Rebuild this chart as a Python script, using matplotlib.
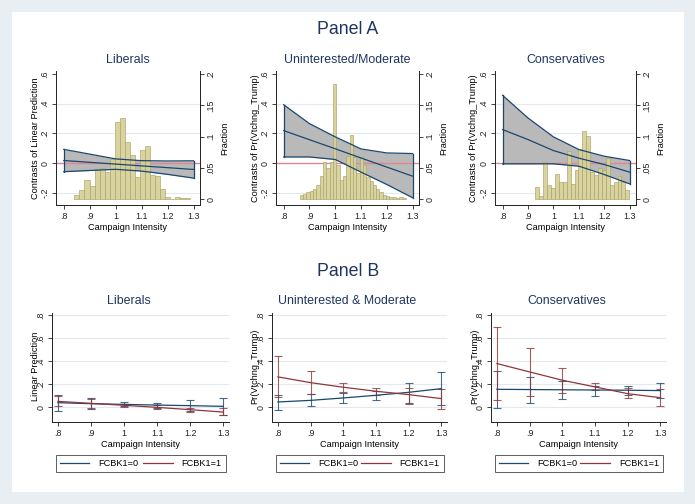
import numpy as np
import matplotlib
matplotlib.use("Agg")
import matplotlib.pyplot as plt
from matplotlib.patches import Rectangle
from matplotlib.lines import Line2D

plt.rcParams['font.family'] = ['Liberation Sans', 'DejaVu Sans']

W, H = 695, 504

# ---------------- data ----------------
x_pts = [0.8, 0.9, 1.0, 1.1, 1.2, 1.3]

# Panel A: contrasts with CI
lib_c = [0.018, 0.006, -0.006, -0.018, -0.030, -0.042]
lib_hi = [0.093, 0.061, 0.029, 0.017, 0.015, 0.016]
lib_lo = [-0.057, -0.049, -0.041, -0.053, -0.075, -0.100]

mod_c = [0.219, 0.158, 0.097, 0.035, -0.026, -0.087]
mod_hi = [0.393, 0.266, 0.177, 0.096, 0.069, 0.065]
mod_lo = [0.042, 0.042, 0.025, -0.060, -0.143, -0.232]

con_c = [0.226, 0.159, 0.085, 0.034, -0.009, -0.060]
con_hi = [0.456, 0.304, 0.177, 0.092, 0.047, 0.018]
con_lo = [-0.004, -0.004, -0.004, -0.020, -0.076, -0.139]

# Panel A histograms (fraction per bin)
lib_bin_start, lib_bin_w = 0.841, 0.0194
lib_frac = [0.006, 0.015, 0.030, 0.021, 0.048, 0.049, 0.043, 0.064, 0.124, 0.129,
            0.092, 0.071, 0.036, 0.079, 0.085, 0.039, 0.037, 0.016, 0.004, 0.0,
            0.004, 0.002, 0.002]

mod_bin_start, mod_bin_w = 0.862, 0.0129
mod_frac = [0.006, 0.008, 0.011, 0.013, 0.016, 0.023, 0.037, 0.060, 0.049, 0.059,
            0.184, 0.055, 0.031, 0.037, 0.069, 0.103, 0.068, 0.041, 0.068, 0.055,
            0.036, 0.029, 0.023, 0.016, 0.012, 0.006, 0.005, 0.004, 0.003, 0.002,
            0.004, 0.002]

con_bin_start, con_bin_w = 0.929, 0.0154
con_frac = [0.019, 0.005, 0.060, 0.023, 0.018, 0.040, 0.028, 0.027, 0.077, 0.024,
            0.047, 0.080, 0.109, 0.101, 0.044, 0.038, 0.049, 0.047, 0.066, 0.023,
            0.028, 0.037, 0.028, 0.014]

# Panel B: predictions by FCBK1 with CI
libB0 = [0.038, 0.029, 0.023, 0.017, 0.012, 0.006]
libB0_hi = [0.108, 0.079, 0.047, 0.035, 0.058, 0.079]
libB0_lo = [-0.038, -0.015, 0.006, -0.006, -0.035, -0.073]
libB1 = [0.049, 0.032, 0.015, -0.003, -0.023, -0.044]
libB1_hi = [0.093, 0.067, 0.029, 0.015, -0.006, -0.009]
libB1_lo = [0.006, -0.006, 0.000, -0.017, -0.044, -0.073]

modB0 = [0.044, 0.058, 0.079, 0.102, 0.128, 0.160]
modB0_hi = [0.108, 0.116, 0.122, 0.137, 0.209, 0.305]
modB0_lo = [-0.023, 0.006, 0.038, 0.064, 0.035, 0.015]
modB1 = [0.262, 0.212, 0.172, 0.137, 0.108, 0.073]
modB1_hi = [0.442, 0.314, 0.212, 0.169, 0.166, 0.160]
modB1_lo = [0.087, 0.116, 0.131, 0.102, 0.029, -0.015]

conB0 = [0.154, 0.152, 0.150, 0.148, 0.146, 0.143]
conB0_hi = [0.311, 0.262, 0.224, 0.186, 0.180, 0.207]
conB0_lo = [-0.009, 0.035, 0.073, 0.096, 0.102, 0.079]
conB1 = [0.378, 0.305, 0.233, 0.175, 0.116, 0.081]
conB1_hi = [0.698, 0.509, 0.340, 0.209, 0.166, 0.154]
conB1_lo = [0.058, 0.093, 0.122, 0.145, 0.079, 0.009]

legend_labels = ["FCBK1=0", "FCBK1=1"]

# ---------------- style ----------------
NAVY = '#1a476f'
MAROON = '#90353b'
BAND = '#b9b9b9'
HIST_FILL = '#d6d197'
HIST_EDGE = '#aba46a'
GRID = '#e3eaef'
REFLINE = '#e0868e'
TITLE_C = '#1f3560'
FS_TICK = 6.4
FS_LAB = 6.6
FS_TITLE = 8.9


def fig_box(left, right, top, bottom):
    return [left / W, 1 - bottom / H, (right - left) / W, (bottom - top) / H]


def style_axes(ax):
    ax.set_facecolor('none')
    ax.spines['top'].set_visible(False)
    ax.spines['right'].set_visible(False)
    for s in ('left', 'bottom'):
        ax.spines[s].set_linewidth(0.7)
        ax.spines[s].set_color('#222222')
    ax.tick_params(direction='out', length=2.8, width=0.6, colors='#222222',
                   labelsize=FS_TICK, pad=2)


fig = plt.figure(figsize=(W / 100, H / 100), dpi=100)
fig.patch.set_facecolor('#e9eef2')
fig.patches.append(Rectangle((12 / W, 1 - 492 / H), (684 - 12) / W, (492 - 12) / H,
                             transform=fig.transFigure, facecolor='white',
                             edgecolor='none', zorder=-10))

fig.text(348 / W, 1 - 30 / H, "Panel A", ha='center', va='center', fontsize=12.8, color=TITLE_C)
fig.text(348 / W, 1 - 272 / H, "Panel B", ha='center', va='center', fontsize=12.8, color=TITLE_C)

# ---------------- Panel A ----------------
panelA = [
    ("Liberals", "Contrasts of Linear Prediction", lib_c, lib_hi, lib_lo,
     lib_bin_start, lib_bin_w, lib_frac, 56, 200, 35),
    ("Uninterested/Moderate", "Contrasts of Pr(Vtchng_Trump)", mod_c, mod_hi, mod_lo,
     mod_bin_start, mod_bin_w, mod_frac, 276, 419, 255),
    ("Conservatives", "Contrasts of Pr(Vtchng_Trump)", con_c, con_hi, con_lo,
     con_bin_start, con_bin_w, con_frac, 495, 636, 474),
]

for title, ylab, c, hi, lo, b0, bw, frac, L, R, ylx in panelA:
    ax = fig.add_axes(fig_box(L, R, 71, 205))
    style_axes(ax)
    ax.set_xlim(0.77, 1.325)
    ax.set_ylim(-0.281, 0.62)
    for g in [0.4, 0.2, -0.2]:
        ax.axhline(g, color=GRID, lw=0.8, zorder=0)
    ax.fill_between(x_pts, lo, hi, color=BAND, lw=0, zorder=1)
    ax.axhline(0, color=REFLINE, lw=1.0, zorder=2)
    ax.set_xticks([0.8, 0.9, 1.0, 1.1, 1.2, 1.3])
    ax.set_xticklabels(['.8', '.9', '1', '1.1', '1.2', '1.3'])
    ax.set_yticks([-0.2, 0, 0.2, 0.4, 0.6])
    ax.set_yticklabels(['-.2', '0', '.2', '.4', '.6'], rotation=90, va='center')
    ax.set_xlabel("Campaign Intensity", fontsize=FS_LAB, labelpad=2)
    fig.text((L + R) / 2 / W, 1 - 60 / H, title, ha='center', va='center',
             fontsize=FS_TITLE, color=TITLE_C)
    fig.text(ylx / W, 1 - 138 / H, ylab, rotation=90, ha='center', va='center',
             fontsize=FS_LAB)

    ax2 = ax.twinx()
    ax2.set_facecolor('none')
    for s in ('top', 'left', 'bottom'):
        ax2.spines[s].set_visible(False)
    ax2.spines['right'].set_linewidth(0.7)
    ax2.spines['right'].set_color('#222222')
    ax2.set_ylim(-0.0096, 0.2048)
    edges = b0 + bw * np.arange(len(frac))
    ax2.bar(edges, frac, width=bw, align='edge', color=HIST_FILL,
            edgecolor=HIST_EDGE, linewidth=0.5, alpha=0.92, zorder=3)
    for series in (hi, lo, c):
        ax2.plot(x_pts, series, color=NAVY, lw=0.9, transform=ax.transData, zorder=4)
    ax2.plot([x_pts[0], x_pts[0]], [lo[0], hi[0]], color=NAVY, lw=0.9,
             transform=ax.transData, zorder=4)
    ax2.plot([x_pts[-1], x_pts[-1]], [lo[-1], hi[-1]], color=NAVY, lw=0.9,
             transform=ax.transData, zorder=4)
    ax2.set_yticks([0, 0.05, 0.1, 0.15, 0.2])
    ax2.set_yticklabels(['0', '.05', '.1', '.15', '.2'], rotation=90, va='center')
    ax2.tick_params(direction='out', length=2.8, width=0.6, colors='#222222',
                    labelsize=FS_TICK, pad=2)
    ax2.set_ylabel("Fraction", fontsize=FS_LAB, labelpad=3)

# ---------------- Panel B ----------------
panelB = [
    ("Liberals", "Linear Prediction", libB0, libB0_hi, libB0_lo, libB1, libB1_hi, libB1_lo,
     52, 229, 36),
    ("Uninterested & Moderate", "Pr(Vtchng_Trump)", modB0, modB0_hi, modB0_lo,
     modB1, modB1_hi, modB1_lo, 272, 447, 255),
    ("Conservatives", "Pr(Vtchng_Trump)", conB0, conB0_hi, conB0_lo,
     conB1, conB1_hi, conB1_lo, 491, 666, 475),
]

for title, ylab, y0, h0, l0, y1, h1, l1, L, R, ylx in panelB:
    ax = fig.add_axes(fig_box(L, R, 313, 422))
    style_axes(ax)
    ax.set_xlim(0.782, 1.317)
    ax.set_ylim(-0.13, 0.817)
    for g in [0, 0.2, 0.4, 0.6, 0.8]:
        ax.axhline(g, color=GRID, lw=0.8, zorder=0)
    e0 = [np.subtract(y0, l0), np.subtract(h0, y0)]
    e1 = [np.subtract(y1, l1), np.subtract(h1, y1)]
    ax.errorbar(x_pts, y0, yerr=e0, fmt='none', ecolor=NAVY, elinewidth=0.8,
                capsize=2.6, capthick=0.8, alpha=0.8, zorder=2)
    ax.errorbar(x_pts, y1, yerr=e1, fmt='none', ecolor=MAROON, elinewidth=0.8,
                capsize=2.6, capthick=0.8, alpha=0.8, zorder=2)
    ax.plot(x_pts, y0, color=NAVY, lw=0.9, zorder=3)
    ax.plot(x_pts, y1, color=MAROON, lw=0.9, zorder=3)
    ax.set_xticks([0.8, 0.9, 1.0, 1.1, 1.2, 1.3])
    ax.set_xticklabels(['.8', '.9', '1', '1.1', '1.2', '1.3'])
    ax.set_yticks([0, 0.2, 0.4, 0.6, 0.8])
    ax.set_yticklabels(['0', '.2', '.4', '.6', '.8'], rotation=90, va='center')
    ax.set_xlabel("Campaign Intensity", fontsize=FS_LAB, labelpad=1.5)
    fig.text(((L + R) / 2 - 12) / W, 1 - 301 / H, title, ha='center', va='center',
             fontsize=FS_TITLE, color=TITLE_C)
    fig.text(ylx / W, 1 - 366 / H, ylab, rotation=90, ha='center', va='center',
             fontsize=FS_LAB)

    handles = [Line2D([], [], color=NAVY, lw=0.9), Line2D([], [], color=MAROON, lw=0.9)]
    lx0 = (L + 4) / W
    lw_ = (R - L - 7) / W
    leg = fig.legend(handles, legend_labels, ncol=2, mode='expand',
                     loc='lower left', bbox_to_anchor=(lx0, 1 - 472 / H, lw_, 19 / H),
                     bbox_transform=fig.transFigure, fontsize=FS_LAB,
                     frameon=True, fancybox=False, edgecolor='#333333',
                     handlelength=3.2, handletextpad=1.0, borderaxespad=0,
                     borderpad=0.45)
    leg.get_frame().set_linewidth(0.7)

fig.savefig("out.png", dpi=100, facecolor=fig.get_facecolor())
